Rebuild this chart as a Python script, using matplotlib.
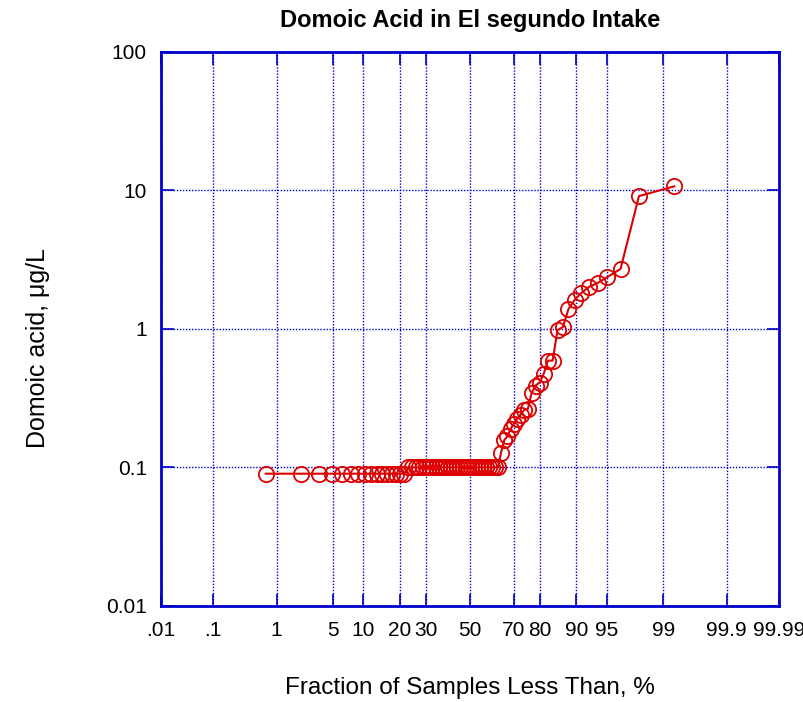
import numpy as np
import matplotlib
matplotlib.use('Agg')
import matplotlib.pyplot as plt
from statistics import NormalDist

plt.rcParams['font.family'] = ['Liberation Sans', 'DejaVu Sans']

## data
# fraction of samples less than (%), plotting positions
pct = [0.7, 2.1, 3.5, 4.9, 6.2, 7.6, 9.0, 10.4, 11.8, 13.2, 14.6, 16.0,
       17.4, 18.8, 20.1, 21.5, 22.9, 24.3, 25.7, 27.1, 28.5, 29.9, 31.2, 32.6,
       34.0, 35.4, 36.8, 38.2, 39.6, 41.0, 42.4, 43.8, 45.1, 46.5, 47.9, 49.3,
       50.7, 52.1, 53.5, 54.9, 56.2, 57.6, 59.0, 60.4, 61.8, 63.2, 64.6, 66.0,
       67.4, 68.8, 70.1, 71.5, 72.9, 74.3, 75.7, 77.1, 78.5, 79.9, 81.2, 82.6,
       84.0, 85.4, 86.8, 88.2, 89.6, 91.0, 92.4, 93.8, 95.1, 96.5, 97.9, 99.3]
# domoic acid, ug/L
conc = [0.09] * 16 + [0.1] * 30 + [
    0.128, 0.157, 0.168, 0.19, 0.206, 0.224, 0.24, 0.26, 0.264, 0.345,
    0.39, 0.41, 0.47, 0.59, 0.59, 0.98, 1.03, 1.39, 1.62, 1.82,
    2.01, 2.15, 2.37, 2.71, 9.1, 10.7]

xticks = [0.01, 0.1, 1, 5, 10, 20, 30, 50, 70, 80, 90, 95, 99, 99.9, 99.99]
xticklabels = ['.01', '.1', '1', '5', '10', '20', '30', '50', '70', '80',
               '90', '95', '99', '99.9', '99.99']
yticks = [0.01, 0.1, 1, 10, 100]
yticklabels = ['0.01', '0.1', '1', '10', '100']

nd = NormalDist()
_ppf = np.vectorize(lambda p: nd.inv_cdf(min(max(p / 100.0, 1e-9), 1 - 1e-9)),
                    otypes=[float])
_cdf = np.vectorize(lambda z: nd.cdf(z) * 100.0, otypes=[float])

def fwd(p):
    return _ppf(np.asarray(p, dtype=float))

def inv(z):
    return _cdf(np.asarray(z, dtype=float))

blue = '#0000CC'
red = '#DD0000'

fig = plt.figure(figsize=(8.04, 7.02), dpi=100)
ax = fig.add_axes([0.2, 0.137, 0.769, 0.789])

ax.plot(pct, conc, color=red, lw=1.5, marker='o', ms=11,
        mfc='none', mec=red, mew=1.3, zorder=3)

ax.set_xscale('function', functions=(fwd, inv))
ax.set_yscale('log')
ax.set_xlim(0.01, 99.99)
ax.set_ylim(0.01, 100)
ax.set_xticks(xticks)
ax.set_xticklabels(xticklabels)
ax.set_yticks(yticks)
ax.set_yticklabels(yticklabels)
ax.minorticks_off()

ax.grid(True, color=blue, ls=(0, (1, 1.2)), lw=1.0)
for s in ax.spines.values():
    s.set_color(blue)
    s.set_linewidth(2)
ax.tick_params(direction='in', length=9, width=1.2, color=blue,
               top=True, right=True, labelsize=15)
ax.tick_params(axis='x', pad=11)
ax.tick_params(axis='y', pad=10)

ax.set_title('Domoic Acid in El segundo Intake', fontsize=17,
             fontweight='bold', pad=18)
ax.set_xlabel('Fraction of Samples Less Than, %', fontsize=17.5)
ax.xaxis.set_label_coords(0.5, -0.128)
ax.set_ylabel('Domoic acid, \u03bcg/L', fontsize=18)
ax.yaxis.set_label_coords(-0.18, 0.465)

plt.savefig('out.png', dpi=100)
